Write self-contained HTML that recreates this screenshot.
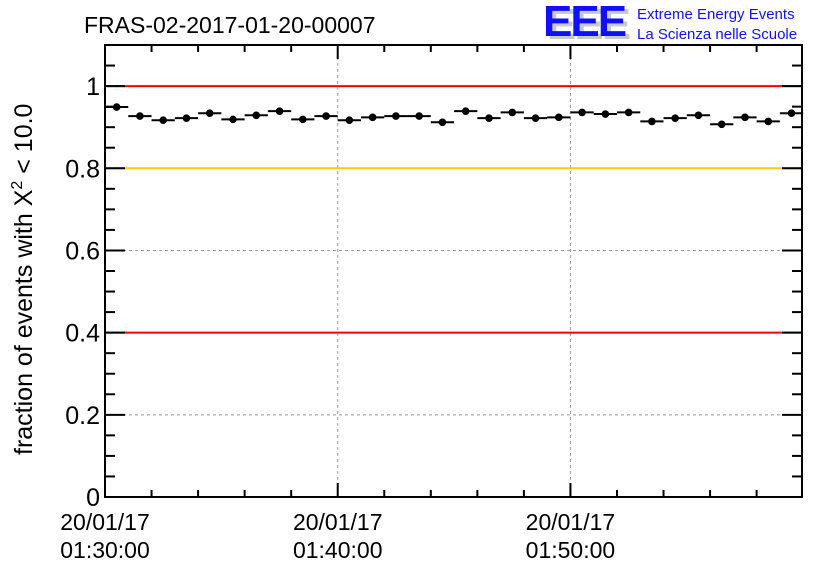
<!DOCTYPE html>
<html><head><meta charset="utf-8"><style>
html,body{margin:0;padding:0;background:#fff;}
svg{display:block;font-family:"Liberation Sans",Arial,sans-serif;}
</style></head><body>
<svg id="chart" width="836" height="572" xmlns="http://www.w3.org/2000/svg">
<rect x="0" y="0" width="836" height="572" fill="#fff"/>
<text x="84" y="33" font-size="23" fill="#000">FRAS-02-2017-01-20-00007</text>
<g>
<text x="547" y="39" font-size="44" font-weight="bold" fill="#c8c8c8" letter-spacing="-2">EEE</text>
<text x="543" y="36" font-size="44" font-weight="bold" fill="#1010ff" letter-spacing="-2">EEE</text>
<text x="637" y="19" font-size="15" fill="#1010ff">Extreme Energy Events</text>
<text x="637" y="39" font-size="15" fill="#1010ff">La Scienza nelle Scuole</text>
</g>
<text transform="translate(32,455) rotate(-90)" font-size="25" fill="#000">fraction of events with Χ<tspan dy="-10" font-size="16">2</tspan><tspan dy="10"> &lt; 10.0</tspan></text>
<g id="grid"></g><g id="refs"></g><g id="marks"></g><g id="axes"></g>
</svg>
<script>
const categories = ["01:30","01:31","01:32","01:33","01:34","01:35","01:36","01:37","01:38","01:39","01:40","01:41","01:42","01:43","01:44","01:45","01:46","01:47","01:48","01:49","01:50","01:51","01:52","01:53","01:54","01:55","01:56","01:57","01:58","01:59"];
const fractions = [0.949,0.927,0.917,0.922,0.934,0.919,0.929,0.939,0.919,0.927,0.917,0.924,0.927,0.927,0.912,0.939,0.922,0.936,0.922,0.924,0.936,0.932,0.936,0.914,0.922,0.929,0.907,0.924,0.914,0.934];
const yTicks = [0,0.2,0.4,0.6,0.8,1];
const yTickLabels = ["0","0.2","0.4","0.6","0.8","1"];
const xTickMinutes = [0,10,20];
const xTickLabels = [["20/01/17","01:30:00"],["20/01/17","01:40:00"],["20/01/17","01:50:00"]];
const refLines = [{v:1,c:"#ff0000"},{v:0.8,c:"#ffcc00"},{v:0.4,c:"#ff0000"}];

const L=105,R=802,T=45,B=497,yMax=1.1,xMin=0,xMaxM=29.95;
const X=m=>L+(m-xMin)/(xMaxM-xMin)*(R-L);
const Y=v=>B-v/yMax*(B-T);
const NS="http://www.w3.org/2000/svg";
function mk(tag,attrs,parent){const e=document.createElementNS(NS,tag);for(const k in attrs)e.setAttribute(k,attrs[k]);parent.appendChild(e);return e;}
const grid=document.getElementById('grid'),refs=document.getElementById('refs'),marks=document.getElementById('marks'),axes=document.getElementById('axes');

xTickMinutes.forEach(m=>{const l=mk('line',{x1:X(m),x2:X(m),y1:T,y2:B,stroke:'#999','stroke-dasharray':'3,3','stroke-width':1},grid);

});
yTicks.forEach(v=>{if(v===0)return;const l=mk('line',{x1:L,x2:R,y1:Y(v),y2:Y(v),stroke:'#999','stroke-dasharray':'3,3','stroke-width':1},grid);

});
refLines.forEach(r=>{const l=mk('line',{x1:L,x2:R,y1:Y(r.v),y2:Y(r.v),stroke:r.c,'stroke-width':2},refs);

});

fractions.forEach((v,i)=>{
 const g=mk('g',{},marks);
 
 
 mk('line',{x1:X(i),x2:X(i+1),y1:Y(v),y2:Y(v),stroke:'#000','stroke-width':2},g);
 mk('circle',{cx:X(i+0.5),cy:Y(v),r:3.8,fill:'#000'},g);
});

const frame=mk('rect',{x:L,y:T,width:R-L,height:B-T,fill:'none',stroke:'#000','stroke-width':2},axes);


for(let k=0;k<=22;k++){const v=k*0.05;if(v>yMax+1e-9)break;const major=k%4===0;const len=major?20:10;
 mk('line',{x1:L,x2:L+len,y1:Y(v),y2:Y(v),stroke:'#000','stroke-width':2},axes);
 mk('line',{x1:R,x2:R-len,y1:Y(v),y2:Y(v),stroke:'#000','stroke-width':2},axes);}
for(let m=0;m<=xMaxM;m+=2){const major=m%10===0;const len=major?14:7;
 mk('line',{x1:X(m),x2:X(m),y1:B,y2:B-len,stroke:'#000','stroke-width':2},axes);
 mk('line',{x1:X(m),x2:X(m),y1:T,y2:T+len,stroke:'#000','stroke-width':2},axes);}
yTicks.forEach((v,i)=>{const t=mk('text',{x:L-5,y:Y(v)+9,'font-size':25,'text-anchor':'end',fill:'#000'},axes);t.textContent=yTickLabels[i];
 
 });
xTickMinutes.forEach((m,i)=>{[0,1].forEach(j=>{const t=mk('text',{x:X(m),y:530+j*28,'font-size':23,'text-anchor':'middle',fill:'#000'},axes);t.textContent=xTickLabels[i][j];
 
 });});
</script>
</body></html>
